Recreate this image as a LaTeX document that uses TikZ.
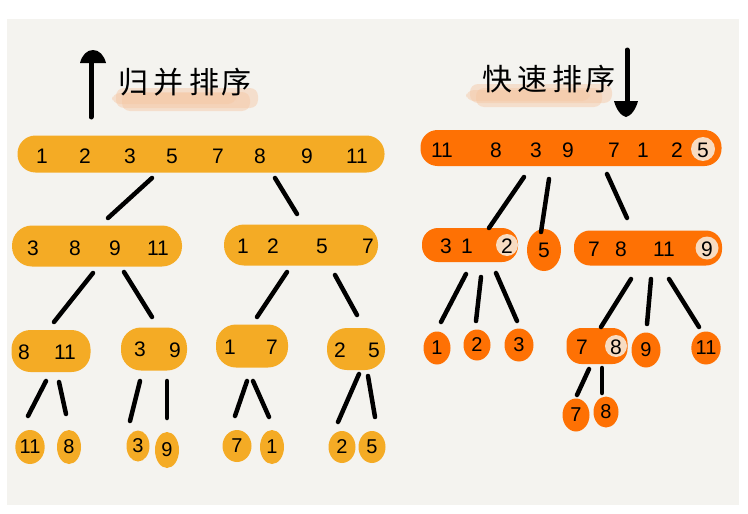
\documentclass[tikz,border=0pt]{standalone}
\usepackage{fontspec}
\setmainfont{Liberation Sans}
\newfontfamily\cjk{Noto Sans CJK SC}
\usetikzlibrary{shapes.geometric}
\definecolor{bgc}{HTML}{F4F3EF}
\definecolor{yel}{HTML}{F4AB25}
\definecolor{org}{HTML}{FE7104}
\definecolor{pale}{HTML}{F7DCC2}
\definecolor{peach}{HTML}{F6C6A2}
\tikzset{
  yblob/.style={ellipse, fill=yel, inner sep=0pt},
  oblob/.style={ellipse, fill=org, inner sep=0pt},
  ybar/.style={rounded corners=18pt, fill=yel, inner sep=0pt},
  obar/.style={rounded corners=17pt, fill=org, inner sep=0pt},
  pv/.style={circle, fill=pale, inner sep=0pt, minimum size=23pt},
  num/.style={font=\fontsize{21}{21}\selectfont, text=black, inner sep=0pt},
  conn/.style={line width=4.5pt, line cap=round, black},
  ttl/.style={font=\cjk\fontsize{30}{30}\selectfont, text=black, inner sep=0pt},
  hl/.style={fill=peach, opacity=0.45, rounded corners=8pt, draw=none}
}
\begin{document}
\begin{tikzpicture}[x=1pt,y=-1pt]
\useasboundingbox (0,0) rectangle (748,514);
\fill[white] (0,0) rectangle (748,514);
\fill[bgc] (7,19) rectangle (739,505);

% ---- titles ----
\fill[hl] (116,88) rectangle (258,108);
\fill[hl] (122,92) rectangle (250,111);
\fill[hl] (112,93) rectangle (236,104);
\node[ttl] (tm1) at (133,82) {归};
\node[ttl] (tm2) at (168,82) {并};
\node[ttl] (tm3) at (204,82) {排};
\node[ttl] (tm4) at (236,82) {序};
\fill[hl] (470,84) rectangle (612,103);
\fill[hl] (476,88) rectangle (602,107);
\fill[hl] (466,90) rectangle (590,101);
\node[ttl] (tq1) at (497,79) {快};
\node[ttl] (tq2) at (532,79) {速};
\node[ttl] (tq3) at (567,79) {排};
\node[ttl] (tq4) at (600,79) {序};
\coordinate (ua1) at (91,117);
\coordinate (ua2) at (91,62);
\draw[line width=5pt, line cap=round] (ua1) -- (ua2);
\fill (80,63) .. controls (82,55) and (87,50) .. (93,50) .. controls (99,50) and (104,55) .. (106,63) -- cycle;
\coordinate (da1) at (627,50);
\coordinate (da2) at (627,103);
\draw[line width=5pt, line cap=round] (da1) -- (da2);
\fill (614,101) -- (638,101) .. controls (636,109) and (631,116) .. (626,117) .. controls (621,116) and (616,109) .. (614,101) -- cycle;

% ---- merge sort (left) ----
\node[ybar, minimum width=367pt, minimum height=37pt] (L1) at (201,154) {};
\foreach \v/\x in {1/42,2/85,3/130,5/172,7/218,8/260,9/307,11/357}
  \node[num] (L1n\x) at (\x,156) {\v};

\node[ybar, rounded corners=20pt, minimum width=170pt, minimum height=41pt] (L2a) at (97,246) {};
\foreach \v/\x in {3/33,8/75,9/115,11/158}
  \node[num] (L2an\x) at (\x,248) {\v};
\node[ybar, rounded corners=20pt, minimum width=154pt, minimum height=41pt] (L2b) at (301,245) {};
\foreach \v/\x in {1/243,2/273,5/322,7/368}
  \node[num] (L2bn\x) at (\x,246) {\v};

\node[ybar, rounded corners=19pt, minimum width=79pt, minimum height=42pt] (L3a) at (51,351) {};
\node[num] at (24,352) {8};
\node[num] at (65,352) {11};
\node[ybar, rounded corners=20pt, minimum width=66pt, minimum height=43pt] (L3b) at (154,349) {};
\node[num] at (140,349) {3};
\node[num] at (175,350) {9};
\node[ybar, rounded corners=20pt, minimum width=72pt, minimum height=43pt] (L3c) at (252,346) {};
\node[num] at (230,347) {1};
\node[num] at (272,347) {7};
\node[ybar, rounded corners=20pt, minimum width=58pt, minimum height=42pt] (L3d) at (356,349) {};
\node[num] at (340,350) {2};
\node[num] at (374,350) {5};

\foreach \n/\v/\x/\y/\w/\h in {a/11/30/447/28/34, b/8/69/447/24/34, c/3/138/446/23/31, d/9/167/450/24/36,
                              e/7/237/446/29/32, f/1/272/447/24/34, g/2/342/447/27/32, h/5/372/447/27/32}
  \node[yblob, minimum width=\w pt, minimum height=\h pt] (L4\n) at (\x,\y) {\textcolor{black}{\fontsize{20}{20}\selectfont\v}};

% connectors left
\coordinate (a1) at (152,178); \coordinate (a2) at (108,218);
\coordinate (b1) at (275,178); \coordinate (b2) at (297,214);
\draw[conn] (a1) -- (a2);
\draw[conn] (b1) -- (b2);
\coordinate (c1) at (93,273); \coordinate (c2) at (54,322);
\coordinate (d1) at (124,272); \coordinate (d2) at (152,317);
\coordinate (e1) at (287,272); \coordinate (e2) at (257,317);
\coordinate (f1) at (335,275); \coordinate (f2) at (357,315);
\draw[conn] (c1) -- (c2); \draw[conn] (d1) -- (d2);
\draw[conn] (e1) -- (e2); \draw[conn] (f1) -- (f2);
\coordinate (g1) at (46,381); \coordinate (g2) at (28,416);
\coordinate (h1) at (59,382); \coordinate (h2) at (66,414);
\coordinate (i1) at (140,381); \coordinate (i2) at (130,421);
\coordinate (j1) at (167,381); \coordinate (j2) at (167,418);
\coordinate (k1) at (247,381); \coordinate (k2) at (235,416);
\coordinate (l1) at (253,381); \coordinate (l2) at (269,417);
\coordinate (m1) at (359,374); \coordinate (m2) at (338,422);
\coordinate (n1) at (368,376); \coordinate (n2) at (375,417);
\foreach \p in {g,h,i,j,k,l,m,n} \draw[conn] (\p1) -- (\p2);

% ---- quick sort (right) ----
\node[obar, minimum width=301pt, minimum height=36pt] (R1) at (571,148) {};
\node[pv, minimum size=24pt] (R1p) at (703,149) {};
\foreach \v/\x in {11/442,8/496,3/536,9/568,7/614,1/643,2/677,5/703}
  \node[num] (R1n\x) at (\x,150) {\v};

\node[obar, rounded corners=16pt, minimum width=96pt, minimum height=34pt] (R2a) at (470,245) {};
\node[pv, minimum size=22pt] (R2ap) at (507,245) {};
\node[num] at (446,246) {3};
\node[num] at (467,246) {1};
\node[num] at (507,246) {2};
\node[oblob, minimum width=34pt, minimum height=42pt] (R2b) at (544,250) {\fontsize{21}{21}\selectfont 5};
\node[obar, rounded corners=16pt, minimum width=148pt, minimum height=35pt] (R2c) at (648,248) {};
\node[pv, minimum size=23pt] (R2cp) at (707,248) {};
\node[num] at (594,249) {7};
\node[num] at (621,249) {8};
\node[num] at (664,249) {11};
\node[num] at (707,249) {9};

\foreach \n/\v/\x/\y/\w/\h in {a/1/437/348/27/33, b/2/477/345/27/31, c/3/519/345/29/33,
                              d/9/646/350/29/35, e/11/706/348/29/33}
  \node[oblob, minimum width=\w pt, minimum height=\h pt] (R3\n) at (\x,\y) {\fontsize{20}{20}\selectfont\v};
\node[obar, rounded corners=15pt, minimum width=61pt, minimum height=36pt] (R3f) at (597,346) {};
\node[pv, minimum size=22pt] (R3fp) at (616,346) {};
\node[num] at (582,347) {7};
\node[num] at (616,347) {8};

\node[oblob, minimum width=27pt, minimum height=33pt] (R4a) at (576,415) {\fontsize{20}{20}\selectfont 7};
\node[oblob, minimum width=25pt, minimum height=31pt] (R4b) at (606,412) {\fontsize{20}{20}\selectfont 8};

% connectors right
\coordinate (o1) at (524,177); \coordinate (o2) at (489,228);
\coordinate (p1) at (549,179); \coordinate (p2) at (541,232);
\coordinate (q1) at (607,174); \coordinate (q2) at (627,218);
\coordinate (r1) at (466,274); \coordinate (r2) at (441,322);
\coordinate (s1) at (481,277); \coordinate (s2) at (476,321);
\coordinate (t1) at (496,273); \coordinate (t2) at (517,321);
\coordinate (u1) at (631,279); \coordinate (u2) at (601,327);
\coordinate (v1) at (651,279); \coordinate (v2) at (647,324);
\coordinate (w1) at (669,279); \coordinate (w2) at (699,327);
\coordinate (x1) at (589,369); \coordinate (x2) at (577,395);
\coordinate (y1) at (602,368); \coordinate (y2) at (602,393);
\foreach \p in {o,p,q,r,s,t,u,v,w,x,y} \draw[conn] (\p1) -- (\p2);
\end{tikzpicture}
\end{document}
